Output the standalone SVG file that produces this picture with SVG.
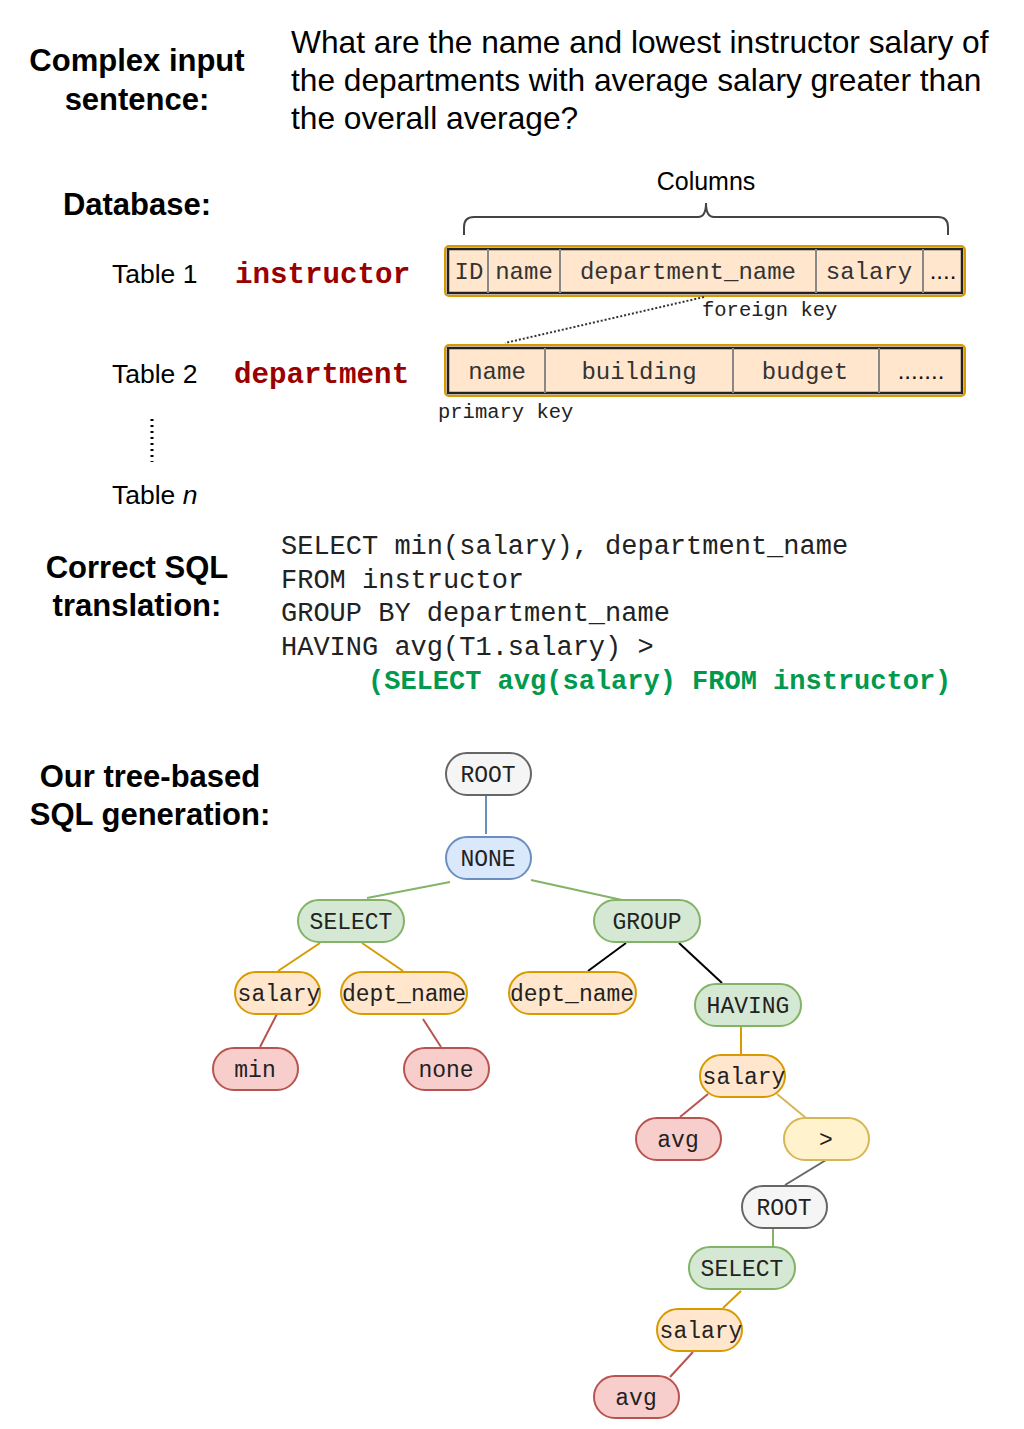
<svg xmlns="http://www.w3.org/2000/svg" width="1024" height="1429" viewBox="0 0 1024 1429">
<style>
.h{font-family:"Liberation Sans",Arial,sans-serif;font-weight:bold;font-size:31px;fill:#000;text-anchor:middle}
.s{font-family:"Liberation Sans",Arial,sans-serif;font-size:26.5px;fill:#000}
.q{font-family:"Liberation Sans",Arial,sans-serif;font-size:31.7px;fill:#000}
.m{font-family:"Liberation Mono","Courier New",monospace;fill:#222}
.tn{font-family:"Liberation Mono","Courier New",monospace;font-weight:bold;font-size:29.2px;fill:#990000}
.col{font-family:"Liberation Mono","Courier New",monospace;font-size:24px;fill:#333;text-anchor:middle}
.dots{font-family:"Liberation Sans",Arial,sans-serif;font-size:24px;fill:#111;text-anchor:middle}
.sql{font-family:"Liberation Mono","Courier New",monospace;font-size:27px;fill:#222}
.gsql{font-family:"Liberation Mono","Courier New",monospace;font-size:27px;font-weight:bold;fill:#00994d}
.nt{font-family:"Liberation Mono","Courier New",monospace;font-size:23px;fill:#222;text-anchor:middle}
.gray rect{fill:#f5f5f5;stroke:#666;stroke-width:2}
.blue rect{fill:#dae8fc;stroke:#6c8ebf;stroke-width:2}
.green rect{fill:#d5e8d4;stroke:#82b366;stroke-width:2}
.orange rect{fill:#ffe6cc;stroke:#d79b00;stroke-width:2}
.red rect{fill:#f8cecc;stroke:#b85450;stroke-width:2}
.yellow rect{fill:#fff2cc;stroke:#d6b656;stroke-width:2}
.e{fill:none;stroke-width:2}
</style>
<rect width="1024" height="1429" fill="#fff"/>

<g id="header">
<text class="h" x="137" y="71">Complex input</text>
<text class="h" x="137" y="110">sentence:</text>
<text class="q" x="291" y="53">What are the name and lowest instructor salary of</text>
<text class="q" x="291" y="91">the departments with average salary greater than</text>
<text class="q" x="291" y="129">the overall average?</text>
</g>

<g id="database">
<text class="h" x="137" y="215">Database:</text>
<text class="s" x="706" y="190" text-anchor="middle" style="font-size:25px">Columns</text>
<path d="M464,235 V227 Q464,217 474,217 H698 Q706,217 706,203 Q706,217 714,217 H938 Q948,217 948,227 V235" fill="none" stroke="#444" stroke-width="2"/>
<text class="s" x="112" y="283">Table 1</text>
<text class="tn" x="235" y="283">instructor</text>
<text class="s" x="112" y="383">Table 2</text>
<text class="tn" x="234" y="383">department</text>
<line x1="152" y1="419" x2="152" y2="462" stroke="#000" stroke-width="3" stroke-dasharray="2,4"/>
<text class="s" x="112" y="504">Table <tspan font-style="italic">n</tspan></text>
</g>

<g id="table1">
<rect x="445" y="246" width="520" height="50" rx="4" fill="#ffe6cc" stroke="#d79b00" stroke-width="2"/>
<rect x="448" y="249" width="514" height="44" fill="none" stroke="#222" stroke-width="2.5"/>
<g stroke="#888" stroke-width="2">
<line x1="488" y1="249" x2="488" y2="293"/>
<line x1="560" y1="249" x2="560" y2="293"/>
<line x1="816" y1="249" x2="816" y2="293"/>
<line x1="923" y1="249" x2="923" y2="293"/>
</g>
<text class="col" x="469" y="279">ID</text>
<text class="col" x="524" y="279">name</text>
<text class="col" x="688" y="279">department_name</text>
<text class="col" x="869" y="279">salary</text>
<text class="dots" x="943" y="279">....</text>
</g>

<g id="table2">
<rect x="445" y="345" width="520" height="51" rx="4" fill="#ffe6cc" stroke="#d79b00" stroke-width="2"/>
<rect x="448" y="348" width="514" height="45" fill="none" stroke="#222" stroke-width="2.5"/>
<g stroke="#888" stroke-width="2">
<line x1="545" y1="348" x2="545" y2="393"/>
<line x1="733" y1="348" x2="733" y2="393"/>
<line x1="879" y1="348" x2="879" y2="393"/>
</g>
<text class="col" x="497" y="379">name</text>
<text class="col" x="639" y="379">building</text>
<text class="col" x="805" y="379">budget</text>
<text class="dots" x="921" y="379">.......</text>
</g>

<g id="keys">
<line x1="704" y1="297" x2="505" y2="343" stroke="#333" stroke-width="2" stroke-dasharray="2,2"/>
<text class="m" x="702" y="316" style="font-size:20.5px">foreign key</text>
<text class="m" x="438" y="418" style="font-size:20.5px">primary key</text>
</g>

<g id="sql">
<text class="h" x="137" y="578">Correct SQL</text>
<text class="h" x="137" y="616">translation:</text>
<text class="sql" x="281" y="554">SELECT min(salary), department_name</text>
<text class="sql" x="281" y="588">FROM instructor</text>
<text class="sql" x="281" y="621">GROUP BY department_name</text>
<text class="sql" x="281" y="655">HAVING avg(T1.salary) &gt;</text>
<text class="gsql" x="368" y="689">(SELECT avg(salary) FROM instructor)</text>
</g>

<g id="tree-title">
<text class="h" x="150" y="787">Our tree-based</text>
<text class="h" x="150" y="825">SQL generation:</text>
</g>

<g id="connectors">
<line class="e" x1="486" y1="795" x2="486" y2="834" stroke="#6c8ebf"/>
<line class="e" x1="450" y1="882" x2="367" y2="898" stroke="#82b366"/>
<line class="e" x1="531" y1="880" x2="622" y2="900" stroke="#82b366"/>
<line class="e" x1="320" y1="943" x2="278" y2="971" stroke="#d79b00"/>
<line class="e" x1="362" y1="943" x2="403" y2="971" stroke="#d79b00"/>
<line class="e" x1="626" y1="943" x2="588" y2="971" stroke="#000"/>
<line class="e" x1="679" y1="943" x2="722" y2="983" stroke="#000"/>
<line class="e" x1="277" y1="1014" x2="260" y2="1047" stroke="#b85450"/>
<line class="e" x1="423" y1="1019" x2="441" y2="1047" stroke="#b85450"/>
<line class="e" x1="741" y1="1026" x2="741" y2="1055" stroke="#d79b00"/>
<line class="e" x1="708" y1="1094" x2="680" y2="1117" stroke="#b85450"/>
<line class="e" x1="777" y1="1094" x2="806" y2="1118" stroke="#d6b656"/>
<line class="e" x1="826" y1="1160" x2="785" y2="1185" stroke="#666"/>
<line class="e" x1="773" y1="1228" x2="773" y2="1247" stroke="#82b366"/>
<line class="e" x1="741" y1="1291" x2="723" y2="1308" stroke="#d79b00"/>
<line class="e" x1="693" y1="1352" x2="670" y2="1377" stroke="#b85450"/>
</g>

<g id="n-root" class="gray"><rect x="446" y="753" width="85" height="42" rx="21"/><text class="nt" x="488" y="782">ROOT</text></g>
<g id="n-none" class="blue"><rect x="446" y="837" width="85" height="42" rx="21"/><text class="nt" x="488" y="866">NONE</text></g>
<g id="n-select" class="green"><rect x="298" y="900" width="106" height="42" rx="21"/><text class="nt" x="351" y="929">SELECT</text></g>
<g id="n-group" class="green"><rect x="594" y="900" width="106" height="42" rx="21"/><text class="nt" x="647" y="929">GROUP</text></g>
<g id="n-salary1" class="orange"><rect x="235" y="972" width="85" height="42" rx="21"/><text class="nt" x="279" y="1001">salary</text></g>
<g id="n-dept1" class="orange"><rect x="341" y="972" width="126" height="42" rx="21"/><text class="nt" x="404" y="1001">dept_name</text></g>
<g id="n-dept2" class="orange"><rect x="509" y="972" width="127" height="42" rx="21"/><text class="nt" x="572" y="1001">dept_name</text></g>
<g id="n-having" class="green"><rect x="695" y="984" width="106" height="42" rx="21"/><text class="nt" x="748" y="1013">HAVING</text></g>
<g id="n-min" class="red"><rect x="213" y="1048" width="85" height="42" rx="21"/><text class="nt" x="255" y="1077">min</text></g>
<g id="n-none2" class="red"><rect x="404" y="1048" width="85" height="42" rx="21"/><text class="nt" x="446" y="1077">none</text></g>
<g id="n-salary2" class="orange"><rect x="700" y="1055" width="85" height="42" rx="21"/><text class="nt" x="744" y="1084">salary</text></g>
<g id="n-avg1" class="red"><rect x="636" y="1118" width="85" height="42" rx="21"/><text class="nt" x="678" y="1147">avg</text></g>
<g id="n-gt" class="yellow"><rect x="784" y="1118" width="85" height="42" rx="21"/><text class="nt" x="826" y="1147">&gt;</text></g>
<g id="n-root2" class="gray"><rect x="742" y="1186" width="85" height="42" rx="21"/><text class="nt" x="784" y="1215">ROOT</text></g>
<g id="n-select2" class="green"><rect x="689" y="1247" width="106" height="42" rx="21"/><text class="nt" x="742" y="1276">SELECT</text></g>
<g id="n-salary3" class="orange"><rect x="657" y="1309" width="85" height="42" rx="21"/><text class="nt" x="701" y="1338">salary</text></g>
<g id="n-avg2" class="red"><rect x="594" y="1376" width="85" height="42" rx="21"/><text class="nt" x="636" y="1405">avg</text></g>
</svg>
